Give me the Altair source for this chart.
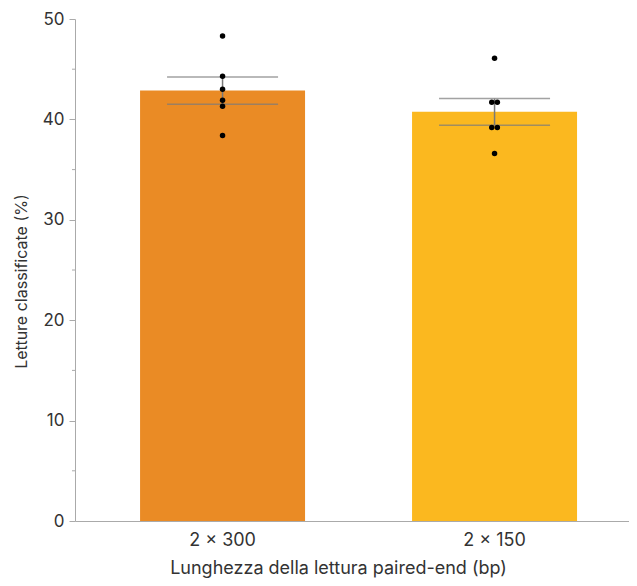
import altair as alt
import pandas as pd

categories = ["2 × 300", "2 × 150"]
reads_2x300 = [48.3, 44.3, 43.0, 41.9, 41.3, 38.4]
reads_2x150 = [46.1, 41.7, 41.7, 39.2, 39.2, 36.6]
bar_colors = ["#EA8B25", "#FBB81F"]
y_ticks = [0, 10, 20, 30, 40, 50]
minor_ticks = [5, 15, 25, 35, 45]

rows = [{"lunghezza": categories[0], "letture": v} for v in reads_2x300] + \
       [{"lunghezza": categories[1], "letture": v} for v in reads_2x150]
df = pd.DataFrame(rows)
minor_df = pd.DataFrame({"t": minor_ticks})

FONT = "Inter"
TXT = "#333333"
AX = "#aaaaaa"
ERR = "#7a7a7a"

x_scale = alt.Scale(domain=categories, paddingInner=0.3934, paddingOuter=0.2151, align=0.556)

x_enc = alt.X(
    "lunghezza:N",
    sort=categories,
    scale=x_scale,
    axis=alt.Axis(
        title="Lunghezza della lettura paired-end (bp)",
        ticks=False,
        labelAngle=0,
        labelPadding=10,
        titlePadding=10,
        labelFontSize=18,
        titleFontSize=18,
        titleX=263,
    ),
)
x_noaxis = alt.X("lunghezza:N", sort=categories, scale=x_scale, axis=None)

y_axis = alt.Axis(
    title="Letture classificate (%)",
    values=y_ticks,
    tickSize=6,
    labelPadding=5,
    grid=False,
    titlePadding=13,
    labelFontSize=17,
    titleFontSize=16,
    titleY=262,
)
y_scale = alt.Scale(domain=[0, 50], nice=False)

base = alt.Chart(df)

bars = base.mark_bar().encode(
    x=x_enc,
    y=alt.Y("mean(letture):Q", scale=y_scale, axis=y_axis),
    color=alt.Color("lunghezza:N", scale=alt.Scale(domain=categories, range=bar_colors), legend=None),
)

agg = base.transform_aggregate(
    m="mean(letture)", se="stderr(letture)", groupby=["lunghezza"]
).transform_calculate(lo="datum.m - datum.se", hi="datum.m + datum.se")

err_rule = agg.mark_rule(color=ERR, strokeWidth=1.5).encode(
    x=x_noaxis,
    y=alt.Y("lo:Q", scale=y_scale, axis=y_axis),
    y2="hi:Q",
)
cap_lo = agg.mark_tick(color=ERR, size=111, thickness=1.5).encode(
    x=x_noaxis, y=alt.Y("lo:Q", scale=y_scale, axis=y_axis)
)
cap_hi = agg.mark_tick(color=ERR, size=111, thickness=1.5).encode(
    x=x_noaxis, y=alt.Y("hi:Q", scale=y_scale, axis=y_axis)
)

points = base.transform_window(
    rk="row_number()", groupby=["lunghezza", "letture"]
).transform_joinaggregate(
    cnt="count()", groupby=["lunghezza", "letture"]
).transform_calculate(
    off="(datum.rk - (datum.cnt + 1) / 2) * 5.6"
).mark_circle(size=30, color="black", opacity=1).encode(
    x=x_noaxis,
    xOffset=alt.XOffset("off:Q", scale=alt.Scale(domain=[-82.5, 82.5], nice=False, zero=False)),
    y=alt.Y("letture:Q", scale=y_scale, axis=y_axis),
)

minor = alt.Chart(minor_df).mark_rule(color=AX, strokeWidth=1).encode(
    x=alt.value(-3), x2=alt.value(0),
    y=alt.Y("t:Q", scale=y_scale, axis=y_axis),
)

chart = alt.layer(bars, err_rule, cap_lo, cap_hi, points, minor).resolve_scale(
    x="independent", xOffset="independent"
).properties(
    width=554,
    height=502,
    autosize="none",
    padding={"left": 67, "top": 11, "right": 0, "bottom": 57},
).configure_view(stroke=None).configure_axis(
    labelFont=FONT,
    titleFont=FONT,
    labelColor=TXT,
    titleColor=TXT,
    titleFontWeight="normal",
    domainColor=AX,
    tickColor=AX,
    domainWidth=1,
    tickWidth=1,
)

chart.save("out.html", embed_options={"renderer": "svg", "actions": False})
